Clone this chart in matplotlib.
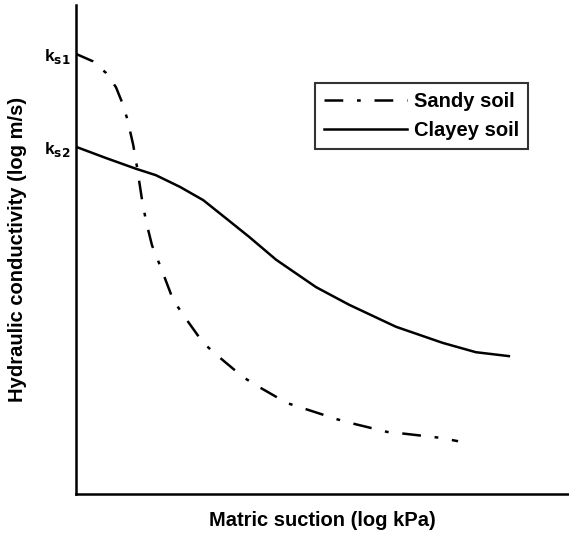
import matplotlib.pyplot as plt

plt.rcParams['font.family'] = ['Liberation Sans', 'DejaVu Sans']
plt.rcParams['font.weight'] = 'bold'

# curve samples in relative log units (x: matric suction, y: conductivity)
sandy_x = [0.0, 0.34, 0.61, 0.81, 0.93, 1.04, 1.16, 1.24, 1.34, 1.42, 1.54, 1.74, 1.97,
           2.19, 2.58, 2.88, 3.39, 3.71, 4.28, 4.65, 5.29, 5.66, 6.31, 6.69, 7.38, 7.75]
sandy_y = [9.00, 8.85, 8.61, 8.32, 8.02, 7.67, 7.14, 6.67, 6.01, 5.58, 5.09, 4.58, 3.97,
           3.64, 3.09, 2.82, 2.39, 2.19, 1.86, 1.74, 1.53, 1.43, 1.27, 1.23, 1.15, 1.08]
clay_x = [0.0, 0.61, 1.22, 1.62, 2.11, 2.58, 3.04, 3.51, 4.06, 4.87, 5.54, 6.49, 7.44, 8.11, 8.78]
clay_y = [7.10, 6.87, 6.65, 6.52, 6.28, 6.01, 5.64, 5.26, 4.79, 4.23, 3.87, 3.42, 3.09, 2.90, 2.82]

ks_ticks = [9.00, 7.10]
ks_labels = ['k$_{\\mathbf{s1}}$', 'k$_{\\mathbf{s2}}$']

fig = plt.figure(figsize=(5.69, 5.34), dpi=100)
ax = fig.add_axes([0.1336, 0.0749, 0.8664, 0.9157])

ax.plot(sandy_x, sandy_y, color='black', lw=1.8, dashes=(7.5, 5.5, 1.5, 5.5), label='Sandy soil')
ax.plot(clay_x, clay_y, color='black', lw=1.8, label='Clayey soil')

ax.set_xlim(0, 10)
ax.set_ylim(0, 10)
for s in ['top', 'right']:
    ax.spines[s].set_visible(False)
for s in ['left', 'bottom']:
    ax.spines[s].set_linewidth(1.8)

ax.set_xticks([])
ax.set_yticks(ks_ticks)
ax.set_yticklabels(ks_labels, fontsize=12.5)
ax.tick_params(axis='y', length=0, pad=4)

ax.set_xlabel('Matric suction (log kPa)', fontsize=14.5, fontweight='bold', labelpad=12)
ax.set_ylabel('Hydraulic conductivity (log m/s)', fontsize=14.5, fontweight='bold', labelpad=12)

leg = ax.legend(loc='upper right', bbox_to_anchor=(0.917, 0.840), borderaxespad=0,
                fontsize=14.5, frameon=True, fancybox=False, handlelength=4.1,
                handletextpad=0.35, borderpad=0.45, labelspacing=0.5)
leg.get_frame().set_edgecolor('black')
leg.get_frame().set_linewidth(1.5)

fig.savefig('out.png', dpi=100)
